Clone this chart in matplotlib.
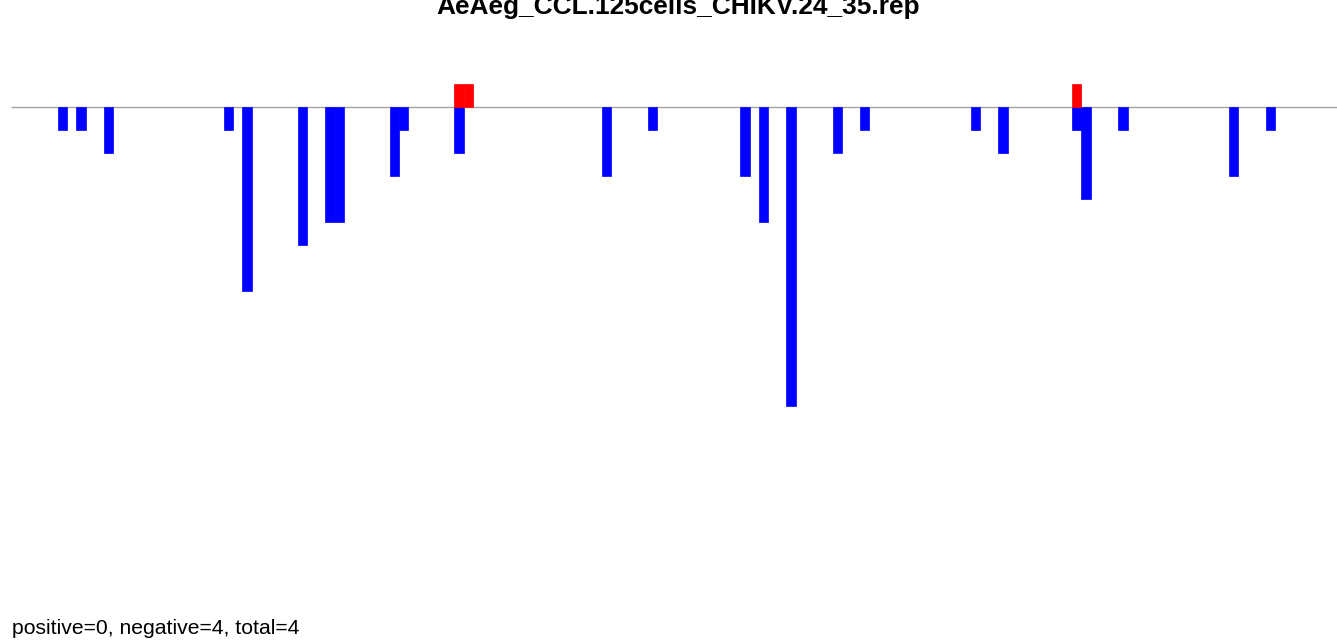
import matplotlib
matplotlib.use("Agg")
import matplotlib.pyplot as plt

# bin positions and read counts (negative strand drawn downward)
neg_pos = [6, 8, 11, 24, 26, 32, 35, 36, 42, 43, 49, 65, 70, 80, 82, 85,
           90, 93, 105, 108, 116, 117, 121, 133, 137]
neg_val = [-1, -1, -2, -1, -8, -6, -5, -5, -3, -1, -2, -3, -1, -3, -5, -13,
           -2, -1, -1, -2, -1, -4, -1, -3, -1]
pos_pos = [49, 50, 116]
pos_val = [1, 1, 1]

title = "AeAeg_CCL.125cells_CHIKV.24_35.rep"
summary = "positive=0, negative=4, total=4"

W, H = 1337, 641
fig = plt.figure(figsize=(W / 100, H / 100), dpi=100)
ax = fig.add_axes([0, 0, 1, 1])
ax.axis("off")

# pixel mapping: bin b -> 2.7 + 9.22*b ; value v -> 106.7 - 23*v (from top)
bw, x0 = 9.22, 2.7
unit, y0 = 23.0, 106.7
ax.set_xlim(-x0 / bw, (W - x0) / bw)
ax.set_ylim((y0 - H) / unit, y0 / unit)

ax.plot([0.9, 150], [0, 0], color="#a0a0a0", lw=0.95, zorder=1,
        solid_capstyle="butt")
ax.bar(neg_pos, neg_val, width=1, align="edge", color="#0000ff",
       edgecolor="#0000ff", linewidth=0.5, zorder=2)
ax.bar(pos_pos, pos_val, width=1, align="edge", color="#ff0000",
       edgecolor="#ff0000", linewidth=0.5, zorder=2)

fig.text(678 / W, 1 - 14 / H, title, ha="center", va="baseline",
         fontsize=18.9, fontweight="bold", family="Liberation Sans")
fig.text(12 / W, 1 - 634 / H, summary, ha="left", va="baseline",
         fontsize=15.2, family="Liberation Sans")

fig.savefig("out.png", dpi=100)
